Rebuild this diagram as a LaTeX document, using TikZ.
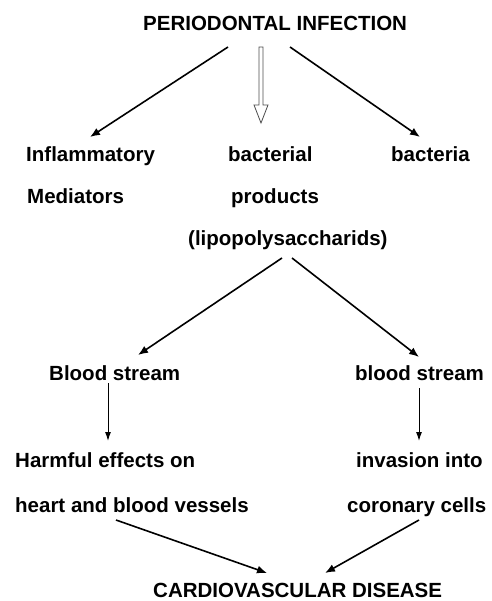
\documentclass[tikz,border=0pt]{standalone}
\usepackage{fontspec}
\setmainfont{Liberation Sans}
\usetikzlibrary{arrows.meta}
\tikzset{
  lbl/.style={anchor=base west, inner sep=0pt, font=\fontsize{20.5}{24}\selectfont\bfseries},
  flow/.style={-{Latex[length=10pt,width=8pt]}, line width=1.6pt},
  down/.style={-{Latex[length=9pt,width=6pt]}, line width=1pt}
}
\begin{document}
\begin{tikzpicture}[x=1pt,y=-1pt]
    \useasboundingbox (0,0) rectangle (491,601);
    \node[lbl] (title) at (143,31) {PERIODONTAL INFECTION};
    \node[lbl] (infl) at (26,162) {Inflammatory};
    \node[lbl] (medi) at (27,204) {Mediators};
    \node[lbl] (bact) at (228,162) {bacterial};
    \node[lbl] (prod) at (231,204) {products};
    \node[lbl] (lps) at (188,245) {(lipopolysaccharids)};
    \node[lbl] (bacteria) at (391,162) {bacteria};
    \node[lbl] (bloodL) at (49,380) {Blood stream};
    \node[lbl] (bloodR) at (355,380) {blood stream};
    \node[lbl] (harm) at (15,467) {Harmful effects on};
    \node[lbl] (heart) at (15,512) {heart and blood vessels};
    \node[lbl] (inva) at (356,467) {invasion into};
    \node[lbl] (coro) at (347,512) {coronary cells};
    \node[lbl] (cvd) at (153,597) {CARDIOVASCULAR DISEASE};
    % arrow ends
    \coordinate (t-l) at (228,47);
    \coordinate (t-r) at (290,47);
    \coordinate (infl-in) at (90,137);
    \coordinate (bacteria-in) at (420,137);
    \coordinate (lps-l) at (282,258);
    \coordinate (lps-r) at (292,258);
    \coordinate (bloodL-in) at (138,355);
    \coordinate (bloodR-in) at (419,357);
    \coordinate (bloodL-out) at (108,383);
    \coordinate (bloodR-out) at (419,388);
    \coordinate (harm-in) at (108,441);
    \coordinate (inva-in) at (419,441);
    \coordinate (heart-out) at (116,520);
    \coordinate (coro-out) at (419,520);
    \coordinate (cvd-l) at (267,573);
    \coordinate (cvd-r) at (325,573);
    \draw[flow] (t-l) -- (infl-in);
    \draw[flow] (t-r) -- (bacteria-in);
    \draw[gray!60!black, line width=0.8pt] (259,47) -- (263,47) -- (263,105) -- (268,105)
        -- (261,123) -- (254,105) -- (259,105) -- cycle;
    \draw[flow] (lps-l) -- (bloodL-in);
    \draw[flow] (lps-r) -- (bloodR-in);
    \draw[down] (bloodL-out) -- (harm-in);
    \draw[down] (bloodR-out) -- (inva-in);
    \draw[flow] (heart-out) -- (cvd-l);
    \draw[flow] (coro-out) -- (cvd-r);
\end{tikzpicture}
\end{document}
